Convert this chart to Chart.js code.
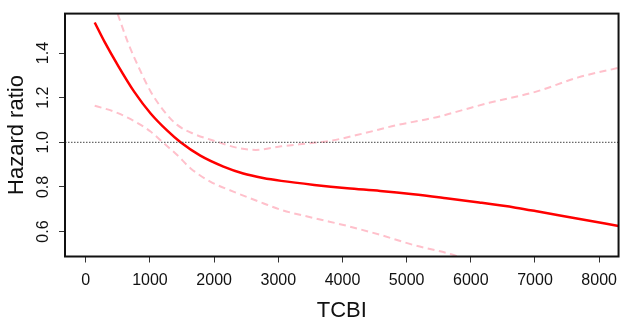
<!DOCTYPE html>
<html>
<head>
<meta charset="utf-8">
<script src="https://cdn.jsdelivr.net/npm/chart.js@4/dist/chart.umd.min.js"></script>
<style>
  html, body { margin: 0; padding: 0; background: #fff; }
  #wrap { width: 625px; height: 324px; }
</style>
</head>
<body>
<div id="wrap"><canvas id="hr-chart" width="625" height="324"></canvas></div>
<script>
// fitted hazard ratio curve (TCBI -> HR)
const fitX = [139, 293, 498, 756, 1014, 1270, 1477, 1785, 2145, 2454, 2762, 3045, 3560, 4074, 4588, 5103, 5617, 6131, 6698, 7006, 7674, 8302]
const fitY = [1.537, 1.450, 1.346, 1.226, 1.128, 1.052, 1.000, 0.940, 0.891, 0.860, 0.840, 0.827, 0.809, 0.794, 0.782, 0.767, 0.749, 0.730, 0.707, 0.692, 0.657, 0.625]

// upper 95% band
const upperX = [498, 653, 833, 1014, 1219, 1424, 1682, 2042, 2351, 2650, 3045, 3560, 3817, 4331, 4846, 5257, 5515, 5926, 6286, 7006, 7674, 8302]
const upperY = [1.575, 1.450, 1.331, 1.226, 1.140, 1.078, 1.038, 1.003, 0.976, 0.966, 0.982, 0.998, 1.007, 1.040, 1.077, 1.100, 1.116, 1.149, 1.177, 1.226, 1.291, 1.334]

// lower 95% band
const lowerX = [139, 448, 756, 1014, 1219, 1424, 1630, 1939, 2299, 2762, 3045, 3560, 4074, 4588, 5103, 5720, 5800]
const lowerY = [1.164, 1.137, 1.095, 1.047, 0.995, 0.943, 0.884, 0.824, 0.779, 0.727, 0.697, 0.660, 0.625, 0.585, 0.540, 0.496, 0.488]

// reference line HR = 1
const refX = [-324, 8302]
const refY = [1, 1]

const xTicks = [0, 1000, 2000, 3000, 4000, 5000, 6000, 7000, 8000]
const yTicks = [0.6, 0.8, 1.0, 1.2, 1.4]

const xTitle = 'TCBI'
const yTitle = 'Hazard ratio'

const toPoints = (xs, ys) => xs.map((x, i) => ({ x: x, y: ys[i] }))

const ctx = document.getElementById('hr-chart').getContext('2d')

// R-style box around the plot region
const boxPlugin = {
  id: 'plotBox',
  afterDraw(chart) {
    const a = chart.chartArea
    const c = chart.ctx
    c.save()
    c.strokeStyle = '#111'
    c.lineWidth = 2
    c.strokeRect(a.left, a.top, a.right - a.left, a.bottom - a.top)
    c.restore()
  }
}

const tickFont = { family: "'Liberation Sans', Arial, sans-serif", size: 16 }
const titleFont = { family: "'Liberation Sans', Arial, sans-serif", size: 22 }

new Chart(ctx, {
  type: 'line',
  data: {
    datasets: [
      {
        data: toPoints(refX, refY),
        borderColor: '#444',
        borderWidth: 1,
        borderDash: [1.5, 1.5],
        pointRadius: 0,
        tension: 0
      },
      {
        data: toPoints(upperX, upperY),
        borderColor: '#FFC0CB',
        borderWidth: 2,
        borderDash: [7, 4.5],
        pointRadius: 0,
        cubicInterpolationMode: 'monotone'
      },
      {
        data: toPoints(lowerX, lowerY),
        borderColor: '#FFC0CB',
        borderWidth: 2,
        borderDash: [7, 4.5],
        pointRadius: 0,
        cubicInterpolationMode: 'monotone'
      },
      {
        data: toPoints(fitX, fitY),
        borderColor: '#FF0000',
        borderWidth: 2.5,
        pointRadius: 0,
        cubicInterpolationMode: 'monotone'
      }
    ]
  },
  options: {
    responsive: false,
    animation: false,
    layout: { padding: { top: 13, right: 1, left: 0, bottom: 0 } },
    plugins: {
      legend: { display: false },
      tooltip: { enabled: false }
    },
    scales: {
      x: {
        type: 'linear',
        min: -324,
        max: 8302,
        afterBuildTicks: scale => { scale.ticks = xTicks.map(v => ({ value: v })) },
        afterFit: scale => { scale.height = 67.5 },
        ticks: {
          color: '#111',
          font: tickFont,
          padding: 8,
          maxRotation: 0,
          autoSkip: false,
          callback: v => String(v)
        },
        grid: {
          drawOnChartArea: false,
          drawTicks: true,
          tickLength: 6,
          tickColor: '#333',
          tickWidth: 1
        },
        border: { display: false },
        title: {
          display: true,
          text: xTitle,
          color: '#111',
          font: titleFont,
          padding: { top: 0, bottom: 0 }
        }
      },
      y: {
        type: 'linear',
        min: 0.488,
        max: 1.577,
        afterBuildTicks: scale => { scale.ticks = yTicks.map(v => ({ value: v })) },
        afterFit: scale => { scale.width = 65 },
        ticks: {
          color: '#111',
          font: tickFont,
          padding: 4,
          minRotation: 90,
          maxRotation: 90,
          crossAlign: 'center',
          autoSkip: false,
          callback: v => v.toFixed(1)
        },
        grid: {
          drawOnChartArea: false,
          drawTicks: true,
          tickLength: 6,
          tickColor: '#333',
          tickWidth: 1
        },
        border: { display: false },
        title: {
          display: true,
          text: yTitle,
          color: '#111',
          font: titleFont,
          padding: { top: 4, bottom: 0 }
        }
      }
    }
  },
  plugins: [boxPlugin]
})
</script>
</body>
</html>
